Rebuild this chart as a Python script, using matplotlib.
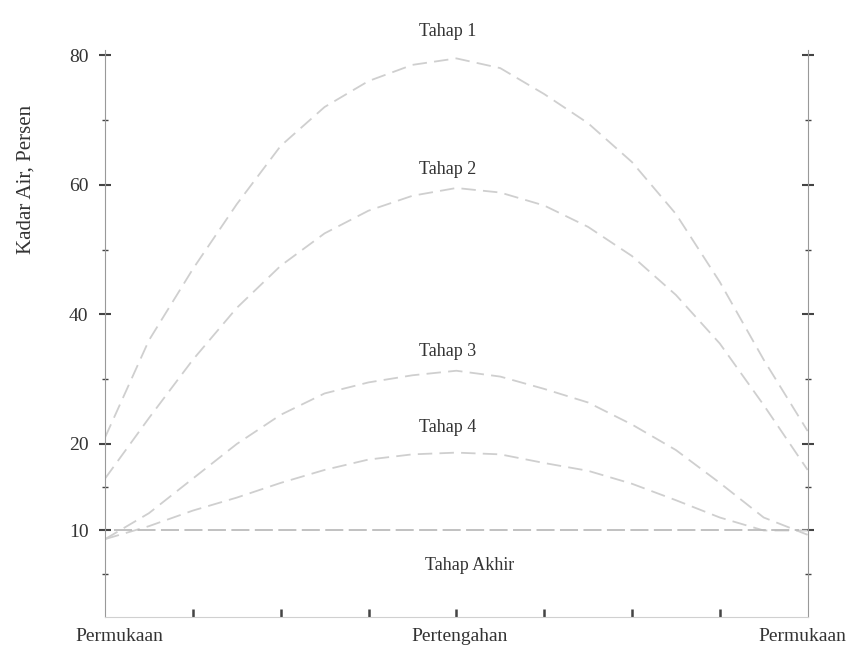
import matplotlib
matplotlib.use('Agg')
import matplotlib.pyplot as plt
import numpy as np

plt.rcParams['font.family'] = ['Liberation Serif', 'DejaVu Serif']

# posisi sepanjang tebal kayu: 0 = permukaan, 4 = pertengahan, 8 = permukaan
x = [0, 0.5, 1, 1.5, 2, 2.5, 3, 3.5, 4, 4.5, 5, 5.5, 6, 6.5, 7, 7.5, 8]
tahap1 = [21, 36, 47, 57, 66, 72, 76, 78.5, 79.5, 78, 74, 69.5, 63.5, 55.5, 45, 33, 22]
tahap2 = [16, 24, 33, 41, 47.5, 52.5, 56, 58.3, 59.5, 58.8, 56.8, 53.5, 49, 43, 35.5, 26, 17]
tahap3 = [9, 12, 16, 20, 24.5, 27.8, 29.5, 30.6, 31.3, 30.4, 28.5, 26.4, 23, 19.3, 15.5, 11.5, 9.5]
tahap4 = [9, 10.5, 12.3, 13.8, 15.5, 17, 18.2, 18.8, 19, 18.8, 17.8, 16.9, 15.4, 13.5, 11.5, 10, 10]
akhir_x = [0.1, 7.9]
akhir_y = [10, 10]

labels = ['Tahap 1', 'Tahap 2', 'Tahap 3', 'Tahap 4', 'Tahap Akhir']
label_x = [3.9, 3.9, 3.9, 3.9, 4.15]
label_y = [83.6, 62.3, 34.2, 22.5, 6.0]

yticks = [10, 20, 40, 60, 80]
yminor = [5, 15, 30, 50, 70]
xminor = [1, 2, 3, 4, 5, 6, 7]
xlabels = ['Permukaan', 'Pertengahan', 'Permukaan']
xlabel_pos = [0.16, 4.04, 7.94]


# skala y tidak linier (bagian bawah 0-20 lebih renggang)
def fwd(v):
    v = np.asarray(v, dtype=float)
    return np.where(v < 20, v * 8.65, 173 + (v - 20) * 6.48)


def inv(p):
    p = np.asarray(p, dtype=float)
    return np.where(p < 173, p / 8.65, 20 + (p - 173) / 6.48)


fig = plt.figure(figsize=(8.61, 6.54), dpi=100)
ax = fig.add_axes([0.122, 0.0566, 0.816, 0.867])
ax.set_yscale('function', functions=(fwd, inv))

line_kw = dict(color='#cfcfcf', lw=1.3, linestyle=(0, (8, 4)))
for ys in [tahap1, tahap2, tahap3, tahap4]:
    ax.plot(x, ys, **line_kw)
ax.plot(akhir_x, akhir_y, color='#bcbcbc', lw=1.3, linestyle=(0, (10, 3)))

for t, lx, ly in zip(labels, label_x, label_y):
    ax.text(lx, ly, t, ha='center', va='center', fontsize=13, color='#333333', clip_on=False)

ax.set_xlim(0, 8)
ax.set_ylim(0, 80.8)

ax.set_yticks(yticks)
ax.set_yticklabels([str(v) for v in yticks])
ax.set_yticks(yminor, minor=True)
ax.set_xticks(xminor)
ax.set_xticklabels([])
ax.tick_params(axis='y', which='both', direction='inout', left=True, right=True,
               labelright=False, width=1.5, color='#444444', labelsize=14,
               labelcolor='#333333', pad=8)
ax.tick_params(axis='y', which='major', length=8)
ax.tick_params(axis='y', which='minor', length=5, width=1)
ax.tick_params(axis='x', which='both', direction='in', length=6, width=1.8,
               color='#444444', bottom=True)

for lab, lx in zip(xlabels, xlabel_pos):
    ax.text(lx, -0.034, lab, transform=ax.get_xaxis_transform(), ha='center', va='center',
            fontsize=14, color='#333333')

ax.spines['top'].set_visible(False)
ax.spines['left'].set_color('#999999')
ax.spines['right'].set_color('#999999')
ax.spines['bottom'].set_color('#d0d0d0')

fig.text(0.03, 0.725, 'Kadar Air, Persen', rotation=90, ha='center', va='center',
         fontsize=15, color='#333333')

fig.savefig('out.png', dpi=100)
